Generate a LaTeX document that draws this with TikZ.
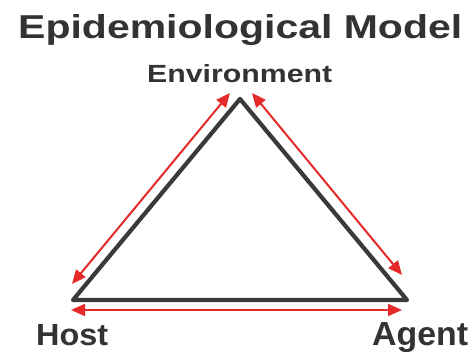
\documentclass[tikz,border=0pt]{standalone}
\usepackage{fontspec}
\usepackage{graphicx}
\setmainfont{Liberation Sans}
\usetikzlibrary{arrows.meta}
\definecolor{inkgray}{HTML}{333333}
\definecolor{edgegray}{HTML}{3A3A3A}
\definecolor{flowred}{HTML}{E42A2A}
\tikzset{
  label text/.style={inner sep=0pt, anchor=base west, text=inkgray, font=\bfseries},
  side/.style={draw=edgegray, line width=4.2pt, line join=round, line cap=round},
  flow/.style={draw=flowred, line width=2pt,
    {Triangle[length=14pt,width=12pt]}-{Triangle[length=14pt,width=12pt]}}
}
\begin{document}
\begin{tikzpicture}[x=1pt,y=-1pt]
  \useasboundingbox (0,0) rectangle (471,352);
  \fill[white] (0,0) rectangle (471,352);

  % titles and vertex labels
  \node[label text] (title) at (18,39) {\resizebox{444pt}{24pt}{Epidemiological Model}};
  \node[label text] (envlabel) at (147,83) {\resizebox{185pt}{18pt}{Environment}};
  \node[label text] (hostlabel) at (36,346) {\resizebox{72pt}{21pt}{Host}};
  \node[label text] (agentlabel) at (372,345) {\resizebox{96pt}{23pt}{Agent}};

  % triangle corners
  \coordinate (env) at (240,99);
  \coordinate (host) at (73,300);
  \coordinate (agent) at (407,300);

  \draw[side] (env) -- (agent) -- (host) -- cycle;

  % arrow end points, offset outside each side
  \coordinate (e1) at (230,93);
  \coordinate (h1) at (72,284);
  \coordinate (e2) at (252,93);
  \coordinate (a2) at (402,275);
  \coordinate (h3) at (71,310);
  \coordinate (a3) at (402,310);

  \draw[flow] (e1) -- (h1);
  \draw[flow] (e2) -- (a2);
  \draw[flow] (h3) -- (a3);
\end{tikzpicture}
\end{document}
